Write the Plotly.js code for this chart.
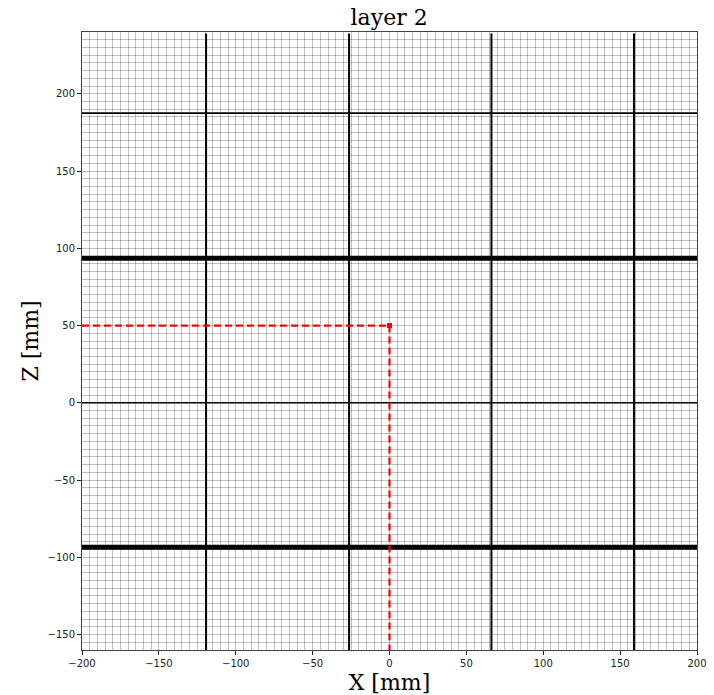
<!DOCTYPE html>
<html>
<head>
<meta charset="utf-8">
<script src="https://cdn.plot.ly/plotly-3.0.1.min.js"></script>
<style>html,body{margin:0;padding:0;background:#fff}#chart{width:714px;height:695px}</style>
</head>
<body>
<div id="chart"></div>
<script>
// Data
const verticalX = [-119.3, -26.3, 66.3, 159.0];
const verticalYSpan = [-160, 239];
const thickY = [93.5, -93.5];
const thinY = [187.5, 0];
const horizXSpan = [-200, 200];
const pointX = [0];
const pointZ = [50];
const xRange = [-200, 200];
const zRange = [-160, 240];

const traces = [];
verticalX.forEach(x => traces.push({
  x: [x, x], y: verticalYSpan, mode: 'lines', line: {color: '#000', width: 2}, hoverinfo: 'skip', showlegend: false
}));
thinY.forEach(y => traces.push({
  x: horizXSpan, y: [y, y], mode: 'lines', line: {color: '#000', width: 1.6}, hoverinfo: 'skip', showlegend: false
}));
thickY.forEach(y => traces.push({
  x: horizXSpan, y: [y, y], mode: 'lines', line: {color: '#000', width: 5}, hoverinfo: 'skip', showlegend: false
}));
traces.push({
  x: [xRange[0], pointX[0]], y: [pointZ[0], pointZ[0]], mode: 'lines',
  line: {color: '#ff0000', width: 2.2, dash: '7px,4px'}, showlegend: false
});
traces.push({
  x: [pointX[0], pointX[0]], y: [pointZ[0], zRange[0]], mode: 'lines',
  line: {color: '#ff0000', width: 2.2, dash: '7px,4px'}, showlegend: false
});
traces.push({
  x: pointX, y: pointZ, mode: 'markers',
  marker: {color: '#ff0000', size: 5, symbol: 'square'}, showlegend: false
});

const gridCol = 'rgba(0,0,0,0.25)';
const axisCommon = {
  showgrid: true, gridcolor: gridCol, gridwidth: 1,
  minor: {dtick: 5, showgrid: true, gridcolor: gridCol, gridwidth: 1, ticks: ''},
  dtick: 50, ticks: 'outside', ticklen: 4, tickwidth: 1, tickcolor: '#222',
  showline: true, mirror: true, linecolor: '#444', linewidth: 1,
  zeroline: false,
  tickfont: {family: 'DejaVu Sans', size: 10, color: '#222'}
};

const layout = {
  width: 714, height: 695,
  margin: {l: 82, r: 17, t: 32, b: 45},
  paper_bgcolor: '#fff', plot_bgcolor: '#fff',
  title: {text: 'layer 2', font: {family: 'DejaVu Serif', size: 22, color: '#000'}, x: 0.545, xanchor: 'center', y: 0.975, yanchor: 'middle'},
  xaxis: Object.assign({}, axisCommon, {
    range: xRange, tick0: 0,
    title: {text: 'X [mm]', font: {family: 'DejaVu Serif', size: 22, color: '#000'}, standoff: 6}
  }),
  yaxis: Object.assign({}, axisCommon, {
    range: zRange, tick0: 0,
    title: {text: 'Z [mm]', font: {family: 'DejaVu Serif', size: 22, color: '#000'}, standoff: 2}
  })
};

Plotly.newPlot('chart', traces, layout, {displayModeBar: false, staticPlot: true});
</script>
</body>
</html>
